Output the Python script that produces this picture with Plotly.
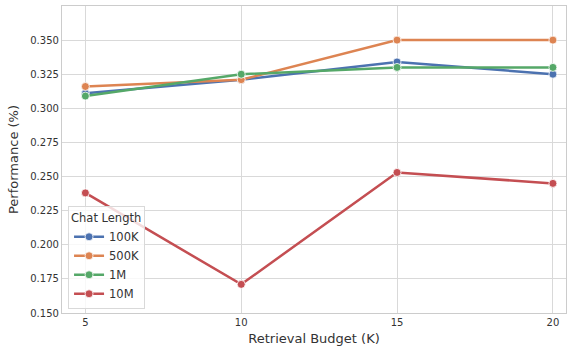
import plotly.graph_objects as go

budgets = [5, 10, 15, 20]
series_names = ["100K", "500K", "1M", "10M"]
vals_100k = [0.311, 0.321, 0.334, 0.325]
vals_500k = [0.316, 0.321, 0.350, 0.350]
vals_1m = [0.309, 0.325, 0.330, 0.330]
vals_10m = [0.238, 0.171, 0.253, 0.245]
colors = ["#4C72B0", "#DD8452", "#55A868", "#C44E52"]
y_ticks = [0.150, 0.175, 0.200, 0.225, 0.250, 0.275, 0.300, 0.325, 0.350]

fig = go.Figure()
for name, vals, c in zip(series_names, [vals_100k, vals_500k, vals_1m, vals_10m], colors):
    fig.add_trace(go.Scatter(
        x=budgets, y=vals, name=name, mode="lines+markers",
        line=dict(color=c, width=2.5),
        marker=dict(color=c, size=8, line=dict(color="white", width=0.8)),
    ))

fig.update_layout(
    width=567, height=348,
    margin=dict(l=62, r=1, t=6, b=35),
    paper_bgcolor="white", plot_bgcolor="white",
    font=dict(family="DejaVu Sans", color="#333333", size=10),
    xaxis=dict(
        title=dict(text="Retrieval Budget (K)", font=dict(size=13, color="#333333"), standoff=6),
        range=[4.25, 20.42], tickvals=budgets, ticktext=[str(b) for b in budgets],
        showgrid=True, gridcolor="#d9d9d9", gridwidth=1,
        showline=True, linecolor="#cccccc", linewidth=1.2, mirror=True,
        zeroline=False, ticks="", tickfont=dict(size=10),
    ),
    yaxis=dict(
        title=dict(text="Performance (%)", font=dict(size=13, color="#333333"), standoff=8),
        range=[0.150, 0.375], tickvals=y_ticks, ticktext=[f"{v:.3f}" for v in y_ticks],
        showgrid=True, gridcolor="#d9d9d9", gridwidth=1,
        showline=True, linecolor="#cccccc", linewidth=1.2, mirror=True,
        zeroline=False, ticks="", tickfont=dict(size=10),
    ),
    legend=dict(
        title=dict(text="Chat Length", font=dict(size=11.5)),
        x=0.012, y=0.012, xanchor="left", yanchor="bottom",
        bgcolor="rgba(255,255,255,0.8)", bordercolor="#d9d9d9", borderwidth=1,
        font=dict(size=11.5), itemwidth=30, tracegroupgap=0,
    ),
    showlegend=True,
)

fig.write_html(
    "out.html",
    config={"displayModeBar": False},
    post_script="document.body.style.margin='0';document.body.style.overflow='hidden';",
)
